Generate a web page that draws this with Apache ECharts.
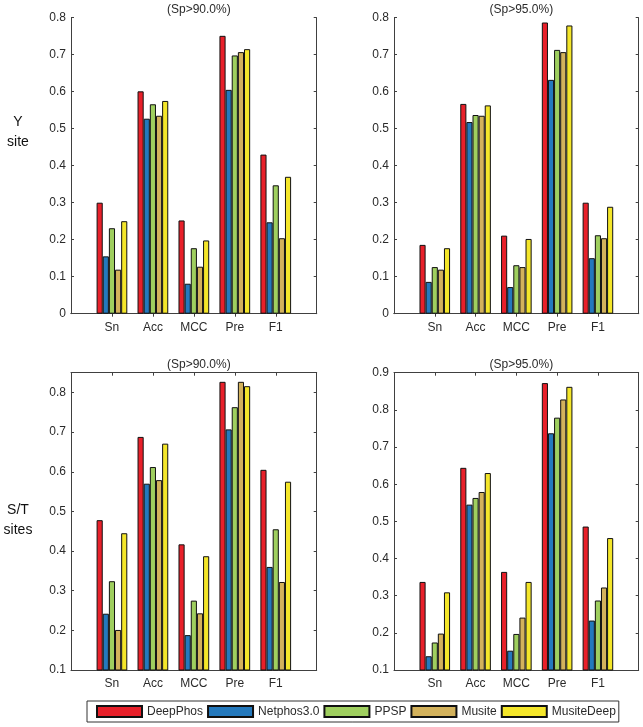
<!DOCTYPE html>
<html>
<head>
<meta charset="utf-8">
<script src="https://cdn.jsdelivr.net/npm/echarts@6/dist/echarts.min.js"></script>
<style>
html,body{margin:0;padding:0;background:#fff;}
#chart{width:643px;height:727px;}
</style>
</head>
<body>
<div id="chart"></div>
<script>
// ---- data ----
const categories = ['Sn', 'Acc', 'MCC', 'Pre', 'F1'];
const methods = ['DeepPhos', 'Netphos3.0', 'PPSP', 'Musite', 'MusiteDeep'];
const panelTitles = ['(Sp>90.0%)', '(Sp>95.0%)', '(Sp>90.0%)', '(Sp>95.0%)'];
const rowLabels = ['Y\nsite', 'S/T\nsites'];
// rows: methods, columns: categories
const ySite90 = [
  [0.300, 0.601, 0.252, 0.751, 0.430],
  [0.155, 0.527, 0.081, 0.605, 0.247],
  [0.231, 0.566, 0.177, 0.698, 0.347],
  [0.119, 0.535, 0.127, 0.707, 0.204],
  [0.250, 0.575, 0.198, 0.715, 0.370]
];
const ySite95 = [
  [0.186, 0.567, 0.211, 0.787, 0.300],
  [0.086, 0.518, 0.072, 0.632, 0.150],
  [0.126, 0.537, 0.131, 0.713, 0.212],
  [0.119, 0.535, 0.126, 0.707, 0.204],
  [0.177, 0.563, 0.202, 0.779, 0.289]
];
const stSite90 = [
  [0.478, 0.688, 0.417, 0.827, 0.605],
  [0.242, 0.570, 0.188, 0.707, 0.360],
  [0.324, 0.612, 0.275, 0.763, 0.455],
  [0.201, 0.579, 0.243, 0.827, 0.322],
  [0.445, 0.671, 0.387, 0.816, 0.575]
];
const stSite95 = [
  [0.337, 0.644, 0.364, 0.872, 0.486],
  [0.137, 0.545, 0.152, 0.737, 0.233],
  [0.174, 0.563, 0.197, 0.779, 0.287],
  [0.198, 0.579, 0.241, 0.828, 0.322],
  [0.309, 0.630, 0.337, 0.862, 0.455]
];
const yRanges = [[0, 0.8], [0, 0.8], [0.1, 0.85], [0.1, 0.9]];
const yTickStep = 0.1;

// ---- styles ----
const colors = ['#e8202a', '#2479bd', '#9fcf5f', '#d3b25c', '#f4e62a'];
const axisColor = '#404040';
const textColor = '#2a2a2a';
const font = 'Arial, "Liberation Sans", sans-serif';
const grids = [
  {left: 71, top: 17.7, width: 245.7, height: 296},
  {left: 394, top: 17.7, width: 244.7, height: 296},
  {left: 71, top: 372.7, width: 245.7, height: 297.3},
  {left: 394, top: 372.7, width: 244.7, height: 297.3}
];
const panels = [ySite90, ySite95, stSite90, stSite95];

const paddedCats = [''].concat(categories, ['']);
const tickOnCats = (idx) => idx > 0 && idx < paddedCats.length - 1;

const xAxes = [], yAxes = [], series = [], titles = [];
grids.forEach((g, i) => {
  const common = {
    type: 'category', gridIndex: i, data: paddedCats, boundaryGap: false,
    axisLine: {show: true, lineStyle: {color: axisColor, width: 1}},
    splitLine: {show: false}
  };
  xAxes.push(Object.assign({}, common, {
    position: 'bottom',
    axisTick: {show: true, inside: true, length: 3, interval: tickOnCats, lineStyle: {color: axisColor}},
    axisLabel: {show: true, interval: 0, margin: 8, color: textColor, fontSize: 12, fontFamily: font}
  }));
  xAxes.push(Object.assign({}, common, {
    position: 'top',
    axisTick: {show: true, inside: true, length: 3, interval: tickOnCats, lineStyle: {color: axisColor}},
    axisLabel: {show: false}
  }));
  const yCommon = {
    type: 'value', gridIndex: i, min: yRanges[i][0], max: yRanges[i][1], interval: yTickStep,
    axisLine: {show: true, lineStyle: {color: axisColor, width: 1}},
    axisTick: {show: true, inside: true, length: 3, lineStyle: {color: axisColor}},
    splitLine: {show: false}
  };
  yAxes.push(Object.assign({}, yCommon, {
    position: 'left',
    axisLabel: {
      show: true, margin: 5, color: textColor, fontSize: 12, fontFamily: font,
      formatter: (v) => {
        const r = Math.round(v * 100) / 100;
        if (Math.abs(r * 10 - Math.round(r * 10)) > 1e-6) return '';
        return r === 0 ? '0' : String(Math.round(r * 10) / 10);
      }
    }
  }));
  yAxes.push(Object.assign({}, yCommon, {
    position: 'right',
    axisLabel: {show: false}
  }));
  const rows = panels[i];
  methods.forEach((m, k) => {
    series.push({
      type: 'bar', name: m,
      xAxisIndex: i * 2, yAxisIndex: i * 2,
      data: [null].concat(rows[k], [null]),
      barGap: '0%', barCategoryGap: '25%',
      itemStyle: {color: colors[k], borderColor: '#111', borderWidth: 1},
      emphasis: {disabled: true},
      animation: false
    });
  });
  titles.push({
    text: panelTitles[i],
    left: g.left + g.width / 2,
    top: g.top - 19,
    textAlign: 'center',
    textStyle: {fontSize: 12, fontWeight: 'normal', color: textColor, fontFamily: font}
  });
});

const chart = echarts.init(document.getElementById('chart'), null, {renderer: 'canvas'});
chart.setOption({
  animation: false,
  backgroundColor: '#fff',
  title: titles,
  grid: grids.map(g => Object.assign({containLabel: false}, g)),
  xAxis: xAxes,
  yAxis: yAxes,
  series: series,
  legend: {
    data: methods.map(m => ({name: m, icon: 'rect'})),
    left: 87, top: 701,
    orient: 'horizontal',
    itemWidth: 45, itemHeight: 11, itemGap: 4,
    padding: [4, 3, 4, 9],
    borderColor: '#333', borderWidth: 1,
    selectedMode: false,
    textStyle: {fontSize: 12, color: textColor, fontFamily: font}
  },
  graphic: [
    {type: 'text', x: 18, y: 132, style: {text: rowLabels[0], fontSize: 14, fontFamily: font, fill: '#111', align: 'center', verticalAlign: 'middle', lineHeight: 20}},
    {type: 'text', x: 18, y: 520, style: {text: rowLabels[1], fontSize: 14, fontFamily: font, fill: '#111', align: 'center', verticalAlign: 'middle', lineHeight: 20}}
  ]
});
</script>
</body>
</html>
